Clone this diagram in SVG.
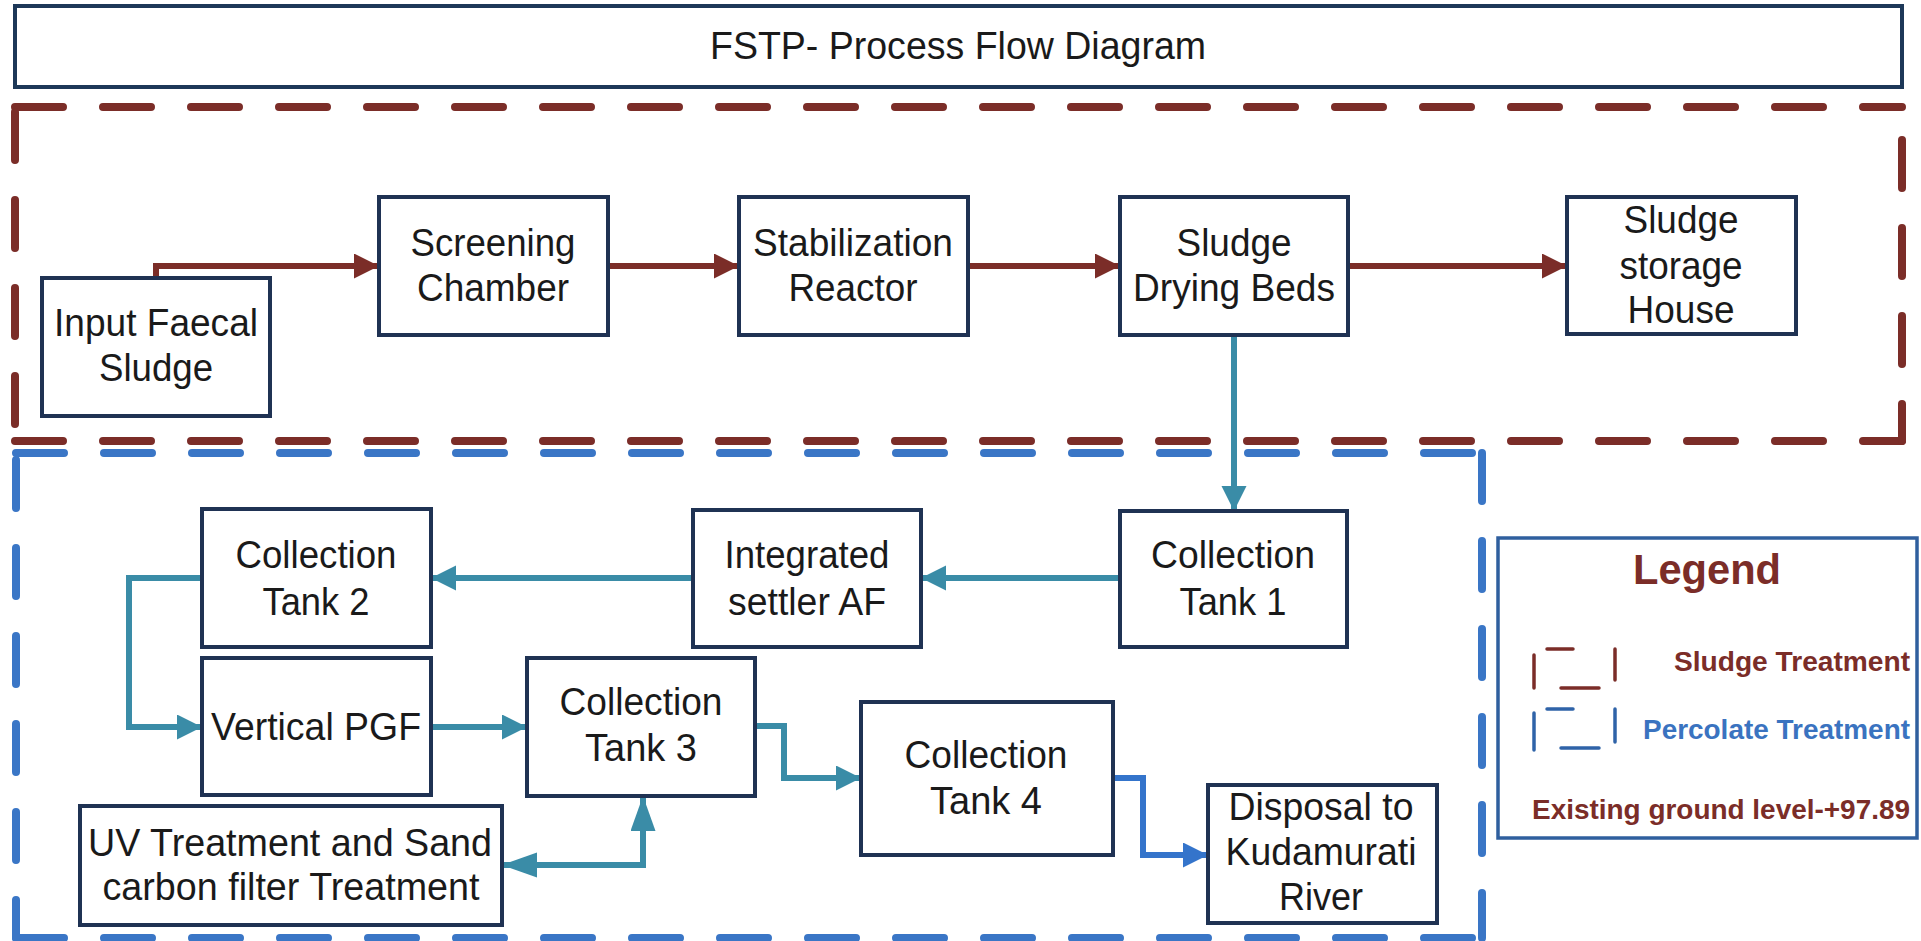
<svg xmlns="http://www.w3.org/2000/svg" width="1921" height="941" viewBox="0 0 1921 941">
<style>
.node{fill:#ffffff;stroke:#1f3253;stroke-width:4}
.t{font-family:"Liberation Sans",Arial,sans-serif;font-size:38px;fill:#1a1a1a;text-anchor:middle}
.red{stroke:#7b2d28;stroke-width:6;fill:none}
.teal{stroke:#3a8ca7;stroke-width:6;fill:none}
.blue{stroke:#3474cb;stroke-width:6;fill:none}
.rdash{stroke:#7b2d28;stroke-width:8;fill:none;stroke-dasharray:48 40;stroke-linecap:round}
.bdash{stroke:#3a76c6;stroke-width:8;fill:none;stroke-dasharray:48 40;stroke-linecap:round}
.lg{font-family:"Liberation Sans",Arial,sans-serif;font-weight:bold;text-anchor:end;font-size:28px}
.ir{stroke:#7b2d28;stroke-width:3.5;stroke-linecap:round}
.ib{stroke:#2f63a8;stroke-width:3.5;stroke-linecap:round}
</style>
<defs>
<marker id="aR" markerUnits="userSpaceOnUse" markerWidth="26" markerHeight="26" refX="25" refY="12.5" orient="auto"><path d="M0,0 L25,12.5 L0,25 z" fill="#7b2d28"/></marker>
<marker id="aT" markerUnits="userSpaceOnUse" markerWidth="26" markerHeight="26" refX="25" refY="12.5" orient="auto"><path d="M0,0 L25,12.5 L0,25 z" fill="#3a8ca7"/></marker>
<marker id="aTL" markerUnits="userSpaceOnUse" markerWidth="36" markerHeight="26" refX="35" refY="12.5" orient="auto-start-reverse"><path d="M0,0 L35,12.5 L0,25 z" fill="#3a8ca7"/></marker>
<marker id="aB" markerUnits="userSpaceOnUse" markerWidth="26" markerHeight="26" refX="25" refY="12.5" orient="auto"><path d="M0,0 L25,12.5 L0,25 z" fill="#3474cb"/></marker>
</defs>
<rect width="1921" height="941" fill="#ffffff"/>

<g id="title">
<rect x="15" y="6" width="1887" height="81" fill="#ffffff" stroke="#1d3858" stroke-width="4"/>
<text class="t" x="958" y="59" textLength="496" lengthAdjust="spacingAndGlyphs">FSTP- Process Flow Diagram</text>
</g>

<g id="sludge-zone">
<line class="rdash" x1="15" y1="107" x2="1902" y2="107"/>
<line class="rdash" x1="15" y1="441" x2="1902" y2="441"/>
<line class="rdash" x1="15" y1="112" x2="15" y2="441"/>
<line class="rdash" x1="1902" y1="140" x2="1902" y2="441"/>
</g>

<g id="percolate-zone">
<line class="bdash" x1="16" y1="453" x2="1482" y2="453"/>
<line class="bdash" x1="16" y1="938" x2="1482" y2="938"/>
<line class="bdash" x1="16" y1="460" x2="16" y2="938"/>
<line class="bdash" x1="1482" y1="453" x2="1482" y2="938"/>
</g>

<g id="connectors">
<path class="red" d="M156,278 V266 H379" marker-end="url(#aR)"/>
<path class="red" d="M608,266 H739" marker-end="url(#aR)"/>
<path class="red" d="M968,266 H1120" marker-end="url(#aR)"/>
<path class="red" d="M1348,266 H1567" marker-end="url(#aR)"/>
<path class="teal" d="M1234,335 V511" marker-end="url(#aT)"/>
<path class="teal" d="M1120,578 H921" marker-end="url(#aT)"/>
<path class="teal" d="M693,578 H431" marker-end="url(#aT)"/>
<path class="teal" d="M202,578 H129 V727 H202" marker-end="url(#aT)"/>
<path class="teal" d="M431,727 H527" marker-end="url(#aT)"/>
<path class="teal" d="M643,796 V865 H502" marker-start="url(#aTL)" marker-end="url(#aTL)"/>
<path class="teal" d="M755,726 H784 V778 H861" marker-end="url(#aT)"/>
<path class="blue" d="M1113,778 H1143 V855 H1208" marker-end="url(#aB)"/>
</g>

<g id="input">
<rect class="node" x="42" y="278" width="228" height="138"/>
<text class="t" x="156" y="336" textLength="204" lengthAdjust="spacingAndGlyphs">Input Faecal</text>
<text class="t" x="156" y="381" textLength="114" lengthAdjust="spacingAndGlyphs">Sludge</text>
</g>
<g id="screening">
<rect class="node" x="379" y="197" width="229" height="138"/>
<text class="t" x="493" y="256" textLength="165" lengthAdjust="spacingAndGlyphs">Screening</text>
<text class="t" x="493" y="301" textLength="152" lengthAdjust="spacingAndGlyphs">Chamber</text>
</g>
<g id="stabilization">
<rect class="node" x="739" y="197" width="229" height="138"/>
<text class="t" x="853" y="256" textLength="200" lengthAdjust="spacingAndGlyphs">Stabilization</text>
<text class="t" x="853" y="301" textLength="129" lengthAdjust="spacingAndGlyphs">Reactor</text>
</g>
<g id="drying">
<rect class="node" x="1120" y="197" width="228" height="138"/>
<text class="t" x="1234" y="256" textLength="115" lengthAdjust="spacingAndGlyphs">Sludge</text>
<text class="t" x="1234" y="301" textLength="202" lengthAdjust="spacingAndGlyphs">Drying Beds</text>
</g>
<g id="storage">
<rect class="node" x="1567" y="197" width="229" height="137"/>
<text class="t" x="1681" y="233" textLength="115" lengthAdjust="spacingAndGlyphs">Sludge</text>
<text class="t" x="1681" y="279" textLength="123" lengthAdjust="spacingAndGlyphs">storage</text>
<text class="t" x="1681" y="323" textLength="107" lengthAdjust="spacingAndGlyphs">House</text>
</g>
<g id="tank1">
<rect class="node" x="1120" y="511" width="227" height="136"/>
<text class="t" x="1233" y="568" textLength="164" lengthAdjust="spacingAndGlyphs">Collection</text>
<text class="t" x="1233" y="615" textLength="107" lengthAdjust="spacingAndGlyphs">Tank 1</text>
</g>
<g id="integrated">
<rect class="node" x="693" y="510" width="228" height="137"/>
<text class="t" x="807" y="568" textLength="165" lengthAdjust="spacingAndGlyphs">Integrated</text>
<text class="t" x="807" y="615" textLength="158" lengthAdjust="spacingAndGlyphs">settler AF</text>
</g>
<g id="tank2">
<rect class="node" x="202" y="509" width="229" height="138"/>
<text class="t" x="316" y="568" textLength="161" lengthAdjust="spacingAndGlyphs">Collection</text>
<text class="t" x="316" y="615" textLength="107" lengthAdjust="spacingAndGlyphs">Tank 2</text>
</g>
<g id="vpgf">
<rect class="node" x="202" y="658" width="229" height="137"/>
<text class="t" x="316" y="740" textLength="210" lengthAdjust="spacingAndGlyphs">Vertical PGF</text>
</g>
<g id="tank3">
<rect class="node" x="527" y="658" width="228" height="138"/>
<text class="t" x="641" y="715" textLength="163" lengthAdjust="spacingAndGlyphs">Collection</text>
<text class="t" x="641" y="761" textLength="112" lengthAdjust="spacingAndGlyphs">Tank 3</text>
</g>
<g id="uv">
<rect class="node" x="80" y="806" width="422" height="119"/>
<text class="t" x="290" y="856" textLength="404" lengthAdjust="spacingAndGlyphs">UV Treatment and Sand</text>
<text class="t" x="291" y="900" textLength="377" lengthAdjust="spacingAndGlyphs">carbon filter Treatment</text>
</g>
<g id="tank4">
<rect class="node" x="861" y="702" width="252" height="153"/>
<text class="t" x="986" y="768" textLength="163" lengthAdjust="spacingAndGlyphs">Collection</text>
<text class="t" x="986" y="814" textLength="112" lengthAdjust="spacingAndGlyphs">Tank 4</text>
</g>
<g id="disposal">
<rect class="node" x="1208" y="785" width="229" height="138"/>
<text class="t" x="1321" y="820" textLength="185" lengthAdjust="spacingAndGlyphs">Disposal to</text>
<text class="t" x="1321" y="865" textLength="191" lengthAdjust="spacingAndGlyphs">Kudamurati</text>
<text class="t" x="1321" y="910" textLength="84" lengthAdjust="spacingAndGlyphs">River</text>
</g>

<g id="legend">
<rect x="1498" y="538" width="419" height="300" fill="#ffffff" stroke="#2f5f9e" stroke-width="3.5"/>
<text x="1707" y="584" font-family="Liberation Sans, Arial, sans-serif" font-weight="bold" font-size="42" fill="#7b2d28" text-anchor="middle" textLength="148" lengthAdjust="spacingAndGlyphs">Legend</text>
<line class="ir" x1="1534" y1="655" x2="1534" y2="688"/>
<line class="ir" x1="1547" y1="649" x2="1573" y2="649"/>
<line class="ir" x1="1561" y1="688" x2="1599" y2="688"/>
<line class="ir" x1="1615" y1="649" x2="1615" y2="680"/>
<text class="lg" x="1910" y="671" fill="#7b2d28" textLength="236" lengthAdjust="spacingAndGlyphs">Sludge Treatment</text>
<line class="ib" x1="1534" y1="713" x2="1534" y2="750"/>
<line class="ib" x1="1547" y1="709" x2="1573" y2="709"/>
<line class="ib" x1="1561" y1="748" x2="1599" y2="748"/>
<line class="ib" x1="1615" y1="709" x2="1615" y2="742"/>
<text class="lg" x="1910" y="739" fill="#3a73c0" textLength="267" lengthAdjust="spacingAndGlyphs">Percolate Treatment</text>
<text class="lg" x="1910" y="819" fill="#7b2d28" textLength="378" lengthAdjust="spacingAndGlyphs">Existing ground level-+97.89</text>
</g>
</svg>
